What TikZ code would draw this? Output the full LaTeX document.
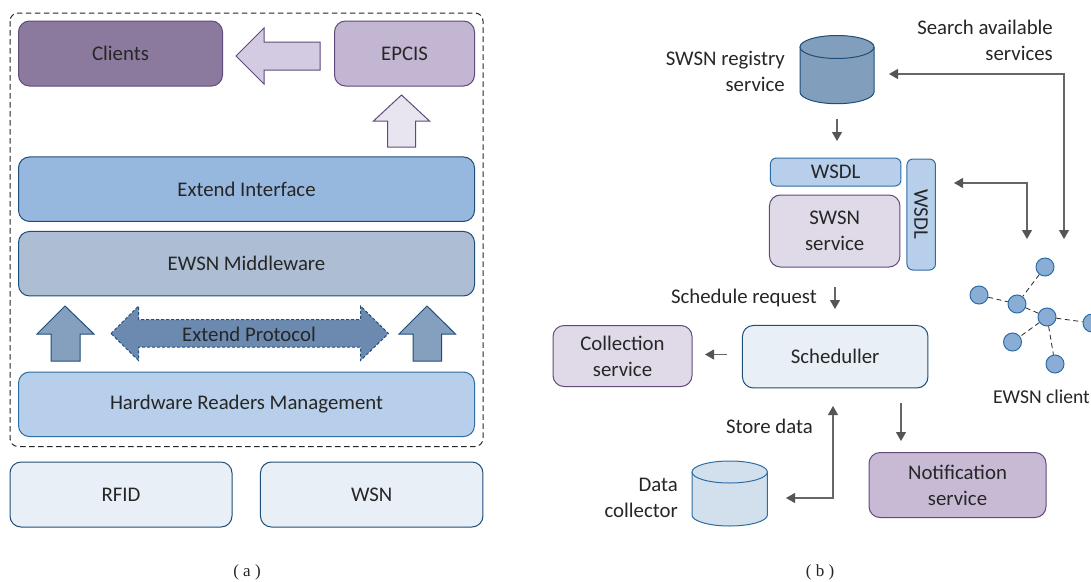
\documentclass[tikz,border=0pt]{standalone}
\usepackage{fontspec}
\setmainfont{Carlito}
\newfontfamily\capfont{Liberation Serif}
\usetikzlibrary{arrows.meta}
\newcommand{\lowered}[1]{\raisebox{-1.2pt}{#1}}
\definecolor{ink}{HTML}{262626}
\definecolor{arrowgray}{HTML}{555555}
\definecolor{linegray}{HTML}{666666}
\definecolor{navy}{HTML}{1F4E79}
\definecolor{midblue}{HTML}{2E6DA4}
\definecolor{plum}{HTML}{604A7B}
\definecolor{circfill}{HTML}{8AADD6}
\definecolor{clientsfill}{HTML}{8B7A9E}
\definecolor{epcisfill}{HTML}{C3B6D2}
\definecolor{arrowlilac}{HTML}{D2CBE1}
\definecolor{arrowpale}{HTML}{E8E5F0}
\definecolor{ifacefill}{HTML}{97B8DE}
\definecolor{mwfill}{HTML}{ACBDD4}
\definecolor{uparrowfill}{HTML}{85A0BE}
\definecolor{protofill}{HTML}{6C8AB0}
\definecolor{hwfill}{HTML}{B8CFEB}
\definecolor{palefill}{HTML}{E8EFF6}
\definecolor{regfill}{HTML}{829EBD}
\definecolor{lilacfill}{HTML}{E0DAE8}
\definecolor{notifyfill}{HTML}{C8BAD5}
\definecolor{datafill}{HTML}{D2E0EE}
\tikzset{
  x=1pt,y=-1pt,
  every node/.style={text=ink,font=\fontsize{20.8}{18}\selectfont},
  box/.style={draw,line width=1pt,rounded corners=#1,inner sep=0pt,align=center},
  box/.default=11pt,
  sidetext/.style={align=right,inner sep=0pt},
  headtip/.tip={Triangle[length=9pt,width=10pt,color=arrowgray]},
  flow/.style={draw=linegray,line width=1.1pt,-headtip},
  flowboth/.style={draw=linegray,line width=1.1pt,headtip-headtip},
  blockarrow/.style={line width=1pt,line join=miter},
  dot/.style={circle,draw=midblue,fill=circfill,line width=1pt,minimum size=18pt,inner sep=0pt},
  link/.style={draw=ink,line width=.8pt,dash pattern=on 5pt off 3.5pt},
  caption/.style={font=\capfont\fontsize{17}{17}\selectfont,inner sep=0pt},
}
\begin{document}
\begin{tikzpicture}
\path[use as bounding box,clip] (0,0) rectangle (1091,581);
\fill[white] (0,0) rectangle (1091,581);

% (a)
\draw[line width=1pt,dash pattern=on 5.5pt off 3.5pt,draw=ink,rounded corners=8pt] (10,13) rectangle (483,446.5);
\node[box,draw=plum,fill=clientsfill,minimum width=204pt,minimum height=65pt] (clients) at (120.5,53.5) {Clients};
\node[box,draw=plum,fill=epcisfill,minimum width=140pt,minimum height=65pt] (epcis) at (404.5,53.5) {EPCIS};
\draw[blockarrow,draw=plum,fill=arrowlilac] (236,56) -- (264,28) -- (264,42) -- (320,42) -- (320,70) -- (264,70) -- (264,84) -- cycle;
\draw[blockarrow,draw=plum,fill=arrowpale] (401.5,95) -- (429.5,121) -- (415.5,121) -- (415.5,147) -- (387.5,147) -- (387.5,121) -- (373.5,121) -- cycle;
\node[box,draw=navy,fill=ifacefill,minimum width=456pt,minimum height=64.5pt] (iface) at (246.5,189.2) {\lowered{Extend Interface}};
\node[box,draw=navy,fill=mwfill,minimum width=456pt,minimum height=64.5pt] (mw) at (246.5,263.7) {\lowered{EWSN Middleware}};
\draw[blockarrow,draw=navy,fill=uparrowfill] (65,306) -- (94,334) -- (80,334) -- (80,361) -- (51,361) -- (51,334) -- (37,334) -- cycle;
\draw[blockarrow,draw=navy,fill=uparrowfill] (427,306) -- (455.5,334) -- (441.5,334) -- (441.5,361) -- (413,361) -- (413,334) -- (399,334) -- cycle;
\draw[blockarrow,draw=navy,fill=protofill,dash pattern=on 3pt off 2pt] (111,333.5) -- (138.5,306) -- (138.5,319.5) -- (360.5,319.5) -- (360.5,306) -- (388.5,333.5) -- (360.5,360.5) -- (360.5,347) -- (138.5,347) -- (138.5,360.5) -- cycle;
\node[inner sep=0pt] (proto) at (249,334) {Extend Protocol};
\node[box,draw=midblue,fill=hwfill,minimum width=456pt,minimum height=64.5pt] (hw) at (246.5,404.3) {\lowered{Hardware Readers Management}};
\node[box,draw=navy,fill=palefill,minimum width=222pt,minimum height=65pt] (rfid) at (121,494.5) {RFID};
\node[box,draw=navy,fill=palefill,minimum width=222.5pt,minimum height=65pt] (wsn) at (371.7,494.5) {WSN};
\node[caption] (capa) at (247,572) {( a )};

% (b) stores
\draw[line width=1pt,draw=navy,fill=regfill] (800,47) -- (800,92) arc[start angle=180,end angle=360,x radius=37,y radius=-11.7] -- (874,47);
\draw[line width=1pt,draw=navy,fill=regfill] (837,47) ellipse[x radius=37,y radius=11.5];
\node[sidetext,anchor=east] (regtext) at (785,71) {SWSN registry\\[8pt]service};
\node[sidetext,anchor=east] (searchtext) at (1053,40) {Search available\\[8pt]services};
\node[box=6pt,draw=midblue,fill=hwfill,minimum width=130.5pt,minimum height=28pt] (wsdla) at (835.7,172) {WSDL};
\node[box,draw=plum,fill=lilacfill,minimum width=130.5pt,minimum height=72pt] (swsn) at (834.7,231) {SWSN\\[8pt]service};
\node[box=6pt,draw=midblue,fill=hwfill,minimum width=28.5pt,minimum height=111pt] (wsdlb) at (921.2,214.5) {};
\node[rotate=-90,inner sep=0pt] (wsdlbt) at (921,214) {WSDL};

\coordinate (r1) at (837,119); \coordinate (r2) at (837,141);
\draw[flow] (r1) -- (r2);
\coordinate (s1) at (889,74); \coordinate (s2) at (1064,74); \coordinate (s3) at (1064,239);
\draw[flowboth] (s1) -- (s2) -- (s3);
\coordinate (w1) at (954,183); \coordinate (w2) at (1027,183); \coordinate (w3) at (1027,239);
\draw[flowboth] (w1) -- (w2) -- (w3);

% network
\node[dot] (n1) at (1045,267) {};
\node[dot] (n2) at (979,295) {};
\node[dot] (n3) at (1017,304) {};
\node[dot] (n4) at (1047,317) {};
\node[dot] (n5) at (1092,323) {};
\node[dot] (n6) at (1012.5,342) {};
\node[dot] (n7) at (1055,364) {};
\draw[link] (n1) -- (n3);
\draw[link] (n2) -- (n3);
\draw[link] (n3) -- (n4);
\draw[link] (n4) -- (n5);
\draw[link] (n4) -- (n6);
\draw[link] (n4) -- (n7);
\node[inner sep=0pt,anchor=east,font=\fontsize{19.6}{18}\selectfont] (ewsn) at (1090,397) {EWSN client};

% lower
\node[inner sep=0pt,anchor=east] (schedt) at (817,298) {Schedule request};
\coordinate (q1) at (835,287); \coordinate (q2) at (835,309);
\draw[flow] (q1) -- (q2);
\node[box,draw=navy,fill=palefill,minimum width=185.5pt,minimum height=62.5pt] (sched) at (835.2,356.7) {\lowered{Scheduller}};
\node[box,draw=plum,fill=lilacfill,minimum width=139pt,minimum height=61pt] (coll) at (622.5,356) {Collection\\[8pt]service};
\coordinate (c1) at (727,354.5); \coordinate (c2) at (705,354.5);
\draw[flow] (c1) -- (c2);
\node[inner sep=0pt,anchor=east] (store) at (813,426) {Store data};
\coordinate (d1) at (833,406); \coordinate (d2) at (833,498); \coordinate (d3) at (786,498);
\draw[flowboth] (d1) -- (d2) -- (d3);
\coordinate (f1) at (901,403); \coordinate (f2) at (901,441);
\draw[flow] (f1) -- (f2);
\node[box,draw=plum,fill=notifyfill,minimum width=177pt,minimum height=65pt] (notify) at (957.5,485) {Notification\\[8pt]service};
\draw[line width=1pt,draw=midblue,fill=datafill] (692,472) -- (692,515) arc[start angle=180,end angle=360,x radius=37.7,y radius=-11] -- (767.4,472);
\draw[line width=1pt,draw=midblue,fill=datafill] (729.7,472) ellipse[x radius=37.7,y radius=11];
\node[sidetext,anchor=east] (datat) at (678,497.5) {Data\\[8pt]collector};
\node[caption] (capb) at (820,572) {( b )};
\end{tikzpicture}
\end{document}
